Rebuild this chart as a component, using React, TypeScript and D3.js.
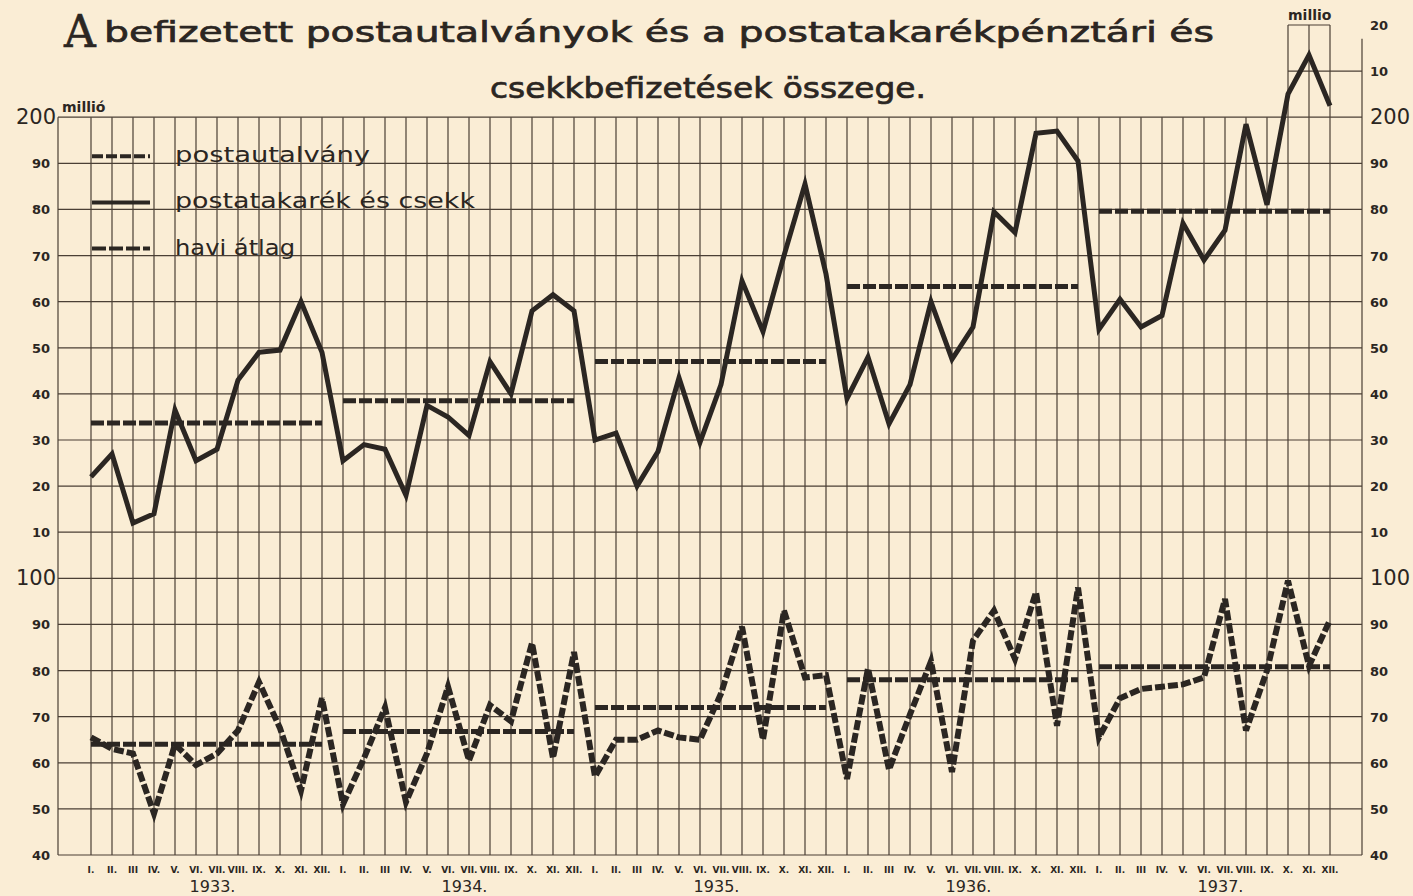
import React from 'react';
import * as d3 from 'd3';

// monthly data, 1933-1937, millió pengő
const years = [1933, 1934, 1935, 1936, 1937];
const monthLabels = ['I.', 'II.', 'III', 'IV.', 'V.', 'VI.', 'VII.', 'VIII.', 'IX.', 'X.', 'XI.', 'XII.'];

// postatakarék és csekk (upper curve)
const csekk = [
  122, 127, 112, 114, 136.5, 125.5, 128, 143, 149, 149.5, 160, 149,
  125.5, 129, 128, 118, 137.5, 135, 131, 147, 140, 158, 161.5, 158,
  130, 131.5, 120, 127.5, 143.5, 129.5, 142, 164.5, 153.5, 170, 185.5, 166,
  139, 148, 133.5, 142, 160, 147.5, 154.5, 179.5, 175, 196.5, 197, 190.5,
  154, 160.5, 154.5, 157, 177, 169, 175.5, 198.5, 181, 205, 213.5, 202.5,
];

// postautalvány (lower curve)
const utalvany = [
  65.5, 63, 62, 49, 64, 59.5, 62, 67, 77.5, 67.5, 54, 74,
  51, 61, 72, 51.5, 62, 76.5, 60.5, 72.5, 69, 86, 61, 84,
  57, 65, 65, 67, 65.5, 65, 75, 89.5, 65, 93, 78.5, 79,
  56.5, 80.5, 58.5, 70.5, 82, 58, 86.5, 93, 82.5, 97, 68, 98,
  65.5, 74, 76, 76.5, 77, 78.5, 95.5, 67, 80, 99.5, 81, 91,
];

// havi átlag per year
const csekkAvg = [133.7, 138.5, 147, 163.3, 179.6];
const utalvanyAvg = [64, 66.8, 72, 78, 80.8];

const gridTicks = d3.range(40, 201, 10);
const extraTicks = [210, 220];

const legendItems = [
  { label: 'postautalvány', kind: 'dash', len: 195 },
  { label: 'postatakarék és csekk', kind: 'solid', len: 300 },
  { label: 'havi átlag', kind: 'avg', len: 120 },
];

const INK = '#2b2622';
const GRID = '#4a3f35';
const PAPER = '#faedd5';
const FONT = '"DejaVu Sans", "Noto Sans", sans-serif';

function tickLabel(v: number) {
  if (v === 200 || v === 100) return String(v);
  if (v > 200) return String(v - 200);
  if (v > 100) return String(v - 100);
  return String(v);
}

export default function App() {
  const W = 1413;
  const H = 896;
  const left = 58;
  const right = 1362;
  const x = d3.scaleLinear().domain([0, 59]).range([91, 1330]);
  const y = d3.scaleLinear().domain([40, 220]).range([855, 25]);
  const yTop = y(200);
  const yBot = y(40);

  const line = d3
    .line<number>()
    .x((d, i) => x(i))
    .y((d) => y(d));

  const monthIdx = d3.range(60);

  return (
    <svg
      width={W}
      height={H}
      style={{ position: 'absolute', left: 0, top: 0, background: PAPER }}
      fontFamily={FONT}
    >
      <rect width={W} height={H} fill={PAPER} />

      {/* title */}
      <text x={64} y={47} fontSize={44} fill={INK} stroke={INK} strokeWidth={0.6} fontFamily='"DejaVu Serif", serif'>A</text>
      <text x={104} y={42} fontSize={29} fill={INK} stroke={INK} strokeWidth={0.7} textLength={1110} lengthAdjust="spacingAndGlyphs">
        befizetett postautalványok és a postatakarékpénztári és
      </text>
      <text x={490} y={98} fontSize={29} fill={INK} stroke={INK} strokeWidth={0.7} textLength={436} lengthAdjust="spacingAndGlyphs">
        csekkbefizetések összege.
      </text>

      {/* grid */}
      <g stroke={GRID} strokeWidth={1.2}>
        {gridTicks.map((t) => (
          <line key={'h' + t} x1={left} x2={right} y1={y(t)} y2={y(t)} />
        ))}
        {monthIdx.map((i) => (
          <line key={'v' + i} x1={x(i)} x2={x(i)} y1={yTop} y2={yBot} />
        ))}
        <line x1={left} x2={left} y1={yTop} y2={yBot} />
        <line x1={right} x2={right} y1={y(217)} y2={yBot} />
        {/* top-right extension */}
        {extraTicks.map((t) => (
          <line key={'e' + t} x1={x(57)} x2={t === 210 ? right : x(59)} y1={y(t)} y2={y(t)} />
        ))}
        {[57, 58, 59].map((i) => (
          <line key={'ev' + i} x1={x(i)} x2={x(i)} y1={y(220)} y2={yTop} />
        ))}
      </g>

      {/* axis labels */}
      <g fill={INK} fontWeight="bold">
        {gridTicks.map((t) => {
          const big = t === 200 || t === 100;
          return (
            <text key={'l' + t} x={big ? 56 : 50} y={y(t) + (big ? 7 : 5)} fontSize={big ? 21 : 13} textAnchor="end" fontWeight={big ? 'normal' : 'bold'}>
              {tickLabel(t)}
            </text>
          );
        })}
        <text x={62} y={y(200) - 5} fontSize={14}>millió</text>
        {[...gridTicks, ...extraTicks].map((t) => {
          const big = t === 200 || t === 100;
          return (
            <text key={'r' + t} x={1370} y={y(t) + (big ? 7 : 5)} fontSize={big ? 21 : 13} fontWeight={big ? 'normal' : 'bold'}>
              {tickLabel(t)}
            </text>
          );
        })}
        <text x={1288} y={20} fontSize={14}>millio</text>
      </g>

      {/* month and year labels */}
      <g fill={INK}>
        {monthIdx.map((i) => (
          <text key={'m' + i} x={x(i)} y={873} fontSize={9} textAnchor="middle" fontWeight="bold">
            {monthLabels[i % 12]}
          </text>
        ))}
        {years.map((yr, k) => (
          <text key={yr} x={x(k * 12 + 5.5) + 6} y={892} fontSize={16} textAnchor="middle">
            {yr}.
          </text>
        ))}
      </g>

      {/* yearly averages */}
      <g stroke={INK} strokeWidth={5} strokeDasharray="13 3" fill="none">
        {csekkAvg.map((v, k) => (
          <line key={'ca' + k} x1={x(k * 12)} x2={x(k * 12 + 11)} y1={y(v)} y2={y(v)} />
        ))}
        {utalvanyAvg.map((v, k) => (
          <line key={'ua' + k} x1={x(k * 12)} x2={x(k * 12 + 11)} y1={y(v)} y2={y(v)} />
        ))}
      </g>

      {/* series */}
      <path d={line(csekk) || ''} fill="none" stroke={INK} strokeWidth={5} strokeLinejoin="miter" />
      <path d={line(utalvany) || ''} fill="none" stroke={INK} strokeWidth={6} strokeDasharray="10 3" strokeLinejoin="miter" />

      {/* legend */}
      {legendItems.map((it, k) => {
        const ly = y(190 - k * 10) - 7;
        return (
          <g key={it.label}>
            <line
              x1={92}
              x2={150}
              y1={ly}
              y2={ly}
              stroke={INK}
              strokeWidth={4}
              strokeDasharray={it.kind === 'solid' ? undefined : it.kind === 'dash' ? '11 3' : '14 3'}
            />
            <text x={175} y={ly + 6} fontSize={21} fill={INK} textLength={it.len} lengthAdjust="spacingAndGlyphs">
              {it.label}
            </text>
          </g>
        );
      })}
    </svg>
  );
}
